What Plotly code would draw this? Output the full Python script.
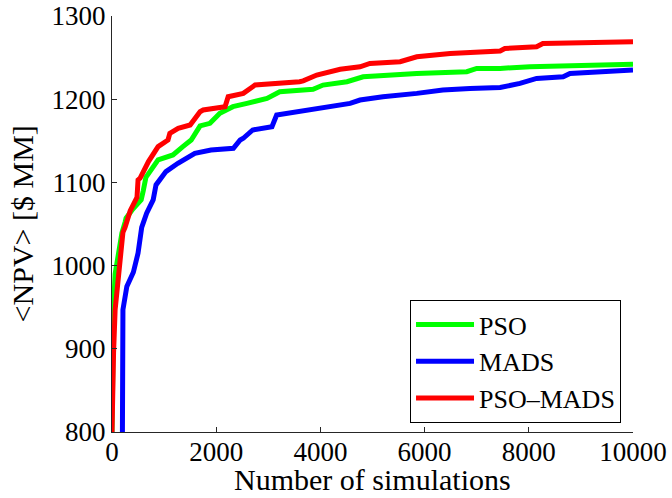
import plotly.graph_objects as go

# Best objective value found so far versus simulation count
pso_x = [0, 10, 30, 60, 90, 130, 190, 250, 270, 400, 560, 600, 650, 885, 1170, 1360,
         1520, 1690, 1880, 2070, 2320, 2590, 2975, 3220, 3860, 4050, 4510, 4820, 5850,
         6810, 7000, 7450, 8020, 10000]
pso_y = [800, 880, 950, 990, 1003, 1020, 1039, 1052, 1057, 1068, 1079, 1090, 1106, 1127,
         1133, 1143, 1151, 1168, 1171, 1183, 1191, 1195, 1201, 1209, 1212, 1217, 1221,
         1227, 1231, 1233, 1237, 1237, 1239, 1242]

mads_x = [200, 210, 285, 410, 500, 570, 665, 790, 845, 1035, 1265, 1590, 1900, 2330,
          2460, 2520, 2700, 3070, 3160, 3930, 4240, 4570, 4760, 5200, 5850, 6350, 6870,
          7450, 7830, 8150, 8660, 8790, 10000]
mads_y = [800, 947, 975, 992, 1015, 1046, 1063, 1079, 1097, 1113, 1123, 1135, 1139, 1141,
          1151, 1153, 1163, 1167, 1181, 1189, 1193, 1195, 1199, 1203, 1207, 1211, 1213,
          1214, 1219, 1225, 1227, 1231, 1235]

psomads_x = [0, 10, 30, 60, 110, 150, 210, 250, 350, 480, 500, 540, 700, 885, 1075, 1110,
             1270, 1500, 1690, 1750, 2170, 2230, 2520, 2700, 2745, 3600, 3670, 3930, 4000,
             4380, 4760, 4950, 5530, 5850, 6490, 7260, 7450, 7540, 8150, 8270, 9000, 10000]
psomads_y = [800, 888, 895, 947, 980, 998, 1040, 1046, 1066, 1082, 1103, 1105, 1125, 1143,
             1151, 1159, 1165, 1169, 1185, 1187, 1191, 1203, 1207, 1215, 1217, 1221, 1222,
             1229, 1230, 1236, 1239, 1243, 1245, 1251, 1255, 1257, 1258, 1261, 1263, 1267,
             1268, 1269]

x_ticks = [0, 2000, 4000, 6000, 8000, 10000]
y_ticks = [800, 900, 1000, 1100, 1200, 1300]

FONT = "Liberation Serif, Times New Roman, Times, serif"

fig = go.Figure()
for name, xs, ys, color in [
    ("PSO", pso_x, pso_y, "#00ff00"),
    ("MADS", mads_x, mads_y, "#0000ff"),
    ("PSO\u2013MADS", psomads_x, psomads_y, "#ff0000"),
]:
    fig.add_trace(go.Scatter(x=xs, y=ys, mode="lines", name=name,
                             line=dict(color=color, width=5)))

axis_common = dict(showline=True, linecolor="#262626", linewidth=1, ticks="inside",
                   ticklen=5, tickcolor="#262626", showgrid=False, zeroline=False,
                   mirror=False, automargin=False,
                   tickfont=dict(family=FONT, size=27, color="black"))

fig.update_xaxes(range=[0, 10000], tickvals=x_ticks, ticktext=[str(v) for v in x_ticks],
                 ticklabelstandoff=-4, **axis_common)
fig.update_yaxes(range=[800, 1300], tickvals=y_ticks, ticktext=[str(v) for v in y_ticks],
                 **axis_common)

fig.add_annotation(text="Number of simulations", xref="paper", yref="paper",
                   x=0.5, y=-0.114, xanchor="center", yanchor="middle", showarrow=False,
                   font=dict(family=FONT, size=30, color="black"))
fig.add_annotation(text="&lt;NPV&gt; [$ MM]", xref="paper", yref="paper",
                   x=-0.172, y=0.5, xanchor="center", yanchor="middle", showarrow=False,
                   textangle=-90, font=dict(family=FONT, size=30, color="black"))

fig.update_layout(
    width=672, height=498,
    margin=dict(l=112, r=39, t=16, b=66, autoexpand=False),
    paper_bgcolor="white", plot_bgcolor="white",
    legend=dict(x=0.977, y=0.0216, xanchor="right", yanchor="bottom",
                bgcolor="white", bordercolor="black", borderwidth=1,
                font=dict(family=FONT, size=26, color="black"),
                tracegroupgap=0, itemwidth=58),
    font=dict(family=FONT),
)

fig.write_html("out.html")
